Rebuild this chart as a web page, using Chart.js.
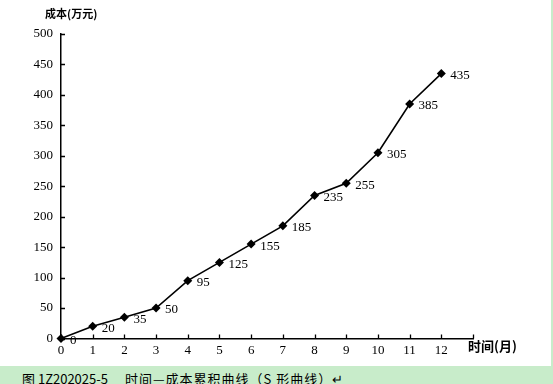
<!DOCTYPE html>
<html>
<head>
<meta charset="utf-8">
<script src="https://cdn.jsdelivr.net/npm/chart.js@4/dist/chart.umd.min.js"></script>
<style>
  html, body { margin: 0; padding: 0; background: #ffffff; }
  #wrap { position: relative; width: 553px; height: 384px; overflow: hidden; background: #ffffff; }
  #c { position: absolute; left: 0; top: 0; }
  #rightbar { position: absolute; left: 551px; top: 0; width: 2px; height: 384px; background: #c8ecca; }
  #caption {
    position: absolute; left: 0; top: 366px; width: 553px; height: 18px;
    background: #c8ecca; color: #000; white-space: pre;
    font-family: "Noto Sans CJK SC", sans-serif; font-size: 13px; line-height: 13px;
  }
  #caption span { position: absolute; top: 6px; }
  #cap1 { left: 22px; }
  #cap2 { left: 125px; letter-spacing: 1px; }
</style>
</head>
<body>
<div id="wrap">
  <canvas id="c" width="553" height="384"></canvas>
  <div id="rightbar"></div>
  <div id="caption"><span id="cap1">图 1Z202025-5</span><span id="cap2">时间—成本累积曲线（S 形曲线）↵</span></div>
</div>
<script>
// ---- data ----
const months = [0, 1, 2, 3, 4, 5, 6, 7, 8, 9, 10, 11, 12];
const costs = [0, 20, 35, 50, 95, 125, 155, 185, 235, 255, 305, 385, 435];
const yTicks = [0, 50, 100, 150, 200, 250, 300, 350, 400, 450, 500];
const xTicks = [0, 1, 2, 3, 4, 5, 6, 7, 8, 9, 10, 11, 12];
const yTitle = "成本(万元)";
const xTitle = "时间(月)";

const points = months.map((m, i) => ({ x: m, y: costs[i] }));

const serif = '"Liberation Serif", "Times New Roman", serif';
const cjk = '"Noto Sans CJK SC", sans-serif';

const decor = {
  id: 'decor',
  afterDraw(chart) {
    const ctx = chart.ctx;
    const xs = chart.scales.x, ys = chart.scales.y;
    const area = chart.chartArea;
    ctx.save();
    // inward tick marks
    ctx.strokeStyle = '#000';
    ctx.lineWidth = 1.3;
    ctx.beginPath();
    yTicks.forEach(v => {
      const y = Math.round(ys.getPixelForValue(v)) + 0.5;
      ctx.moveTo(area.left, y);
      ctx.lineTo(area.left + 4, y);
    });
    xTicks.concat([13]).forEach(v => {
      const x = Math.round(xs.getPixelForValue(v)) + 0.5;
      ctx.moveTo(x, area.bottom);
      ctx.lineTo(x, area.bottom - 4);
    });
    ctx.stroke();
    // point labels
    const meta = chart.getDatasetMeta(0);
    ctx.fillStyle = '#000';
    ctx.font = '13px ' + serif;
    ctx.textAlign = 'left';
    ctx.textBaseline = 'middle';
    meta.data.forEach((el, i) => {
      ctx.fillText(String(costs[i]), el.x + 9, el.y + 2);
    });
    // axis titles
    ctx.font = 'bold 11px ' + cjk;
    ctx.textBaseline = 'middle';
    ctx.fillText(yTitle, 45, 14);
    ctx.font = 'bold 13px ' + cjk;
    ctx.fillText(xTitle, 468, 346);
    ctx.restore();
  }
};

new Chart(document.getElementById('c'), {
  type: 'line',
  data: {
    datasets: [{
      data: points,
      borderColor: '#000',
      backgroundColor: '#000',
      borderWidth: 1.6,
      pointStyle: 'rectRot',
      pointRadius: 4.5,
      pointBorderWidth: 0,
      pointBackgroundColor: '#000',
      tension: 0,
      fill: false,
      clip: false
    }]
  },
  options: {
    responsive: false,
    devicePixelRatio: 1,
    animation: false,
    layout: { padding: { left: 0, top: 34, right: 80, bottom: 25.5 } },
    plugins: { legend: { display: false }, tooltip: { enabled: false }, title: { display: false } },
    scales: {
      x: {
        type: 'linear',
        min: 0, max: 13,
        afterFit(s) { s.height = 20; },
        afterBuildTicks(s) { s.ticks = xTicks.concat([13]).map(v => ({ value: v })); },
        ticks: {
          color: '#000',
          font: { family: serif, size: 13 },
          padding: 4,
          maxRotation: 0,
          autoSkip: false,
          callback: v => (v <= 12 ? String(v) : '')
        },
        grid: { display: false, drawTicks: false },
        border: { display: true, color: '#000', width: 1.5 }
      },
      y: {
        min: 0, max: 500,
        afterFit(s) { s.width = 61; },
        afterBuildTicks(s) { s.ticks = yTicks.map(v => ({ value: v })); },
        ticks: {
          color: '#000',
          font: { family: serif, size: 13 },
          padding: 8,
          autoSkip: false
        },
        grid: { display: false, drawTicks: false },
        border: { display: true, color: '#000', width: 1.5 }
      }
    }
  },
  plugins: [decor]
});
</script>
</body>
</html>
